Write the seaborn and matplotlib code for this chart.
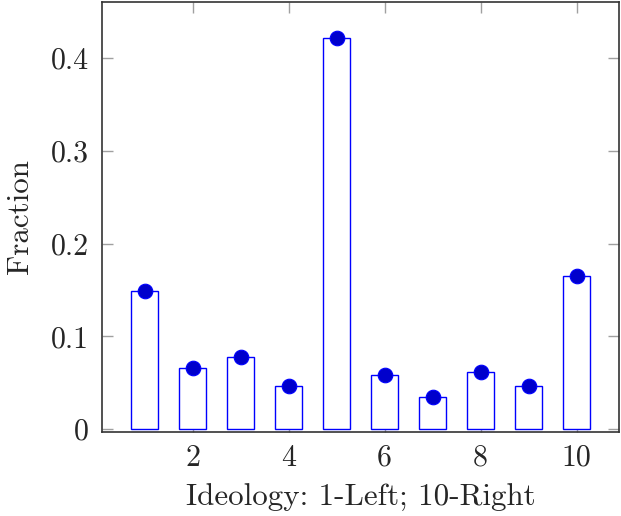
import matplotlib
matplotlib.use("Agg")
import matplotlib.pyplot as plt
import seaborn as sns
import pandas as pd

ideology = [1, 2, 3, 4, 5, 6, 7, 8, 9, 10]
fraction = [0.149, 0.066, 0.078, 0.047, 0.422, 0.058, 0.035, 0.062, 0.047, 0.165]
xticks = [2, 4, 6, 8, 10]
xtick_labels = ["2", "4", "6", "8", "10"]
yticks = [0, 0.1, 0.2, 0.3, 0.4]
ytick_labels = ["0", "0.1", "0.2", "0.3", "0.4"]

sns.set_theme(style="white")
plt.rcParams['font.family'] = ['cmr10', 'DejaVu Sans']
plt.rcParams['mathtext.fontset'] = 'cm'
plt.rcParams['axes.formatter.use_mathtext'] = True

df = pd.DataFrame({"Ideology": ideology, "Fraction": fraction})

fig = plt.figure(figsize=(6.21, 5.16), dpi=100)
ax = fig.add_axes([0.1637, 0.1628, 0.8336, 0.834])

sns.barplot(data=df, x="Ideology", y="Fraction", native_scale=True, width=0.555,
            color="white", edgecolor="#0000ff", linewidth=1.0, ax=ax, errorbar=None)
for p in ax.patches:
    p.set_facecolor("white")
    p.set_edgecolor("#0000ff")
sns.scatterplot(data=df, x="Ideology", y="Fraction", color="#0000cc", edgecolor="#0000ff",
                s=110, linewidth=0.8, ax=ax, zorder=5)

ax.set_xlim(0.104, 10.89)
ax.set_ylim(-0.003, 0.461)
ax.set_xticks(xticks)
ax.set_xticklabels(xtick_labels)
ax.set_yticks(yticks)
ax.set_yticklabels(ytick_labels)
ax.tick_params(direction="in", length=8, width=1.0, color="#a0a0a0",
               top=True, right=True, bottom=True, left=True, labelsize=21.5, pad=9)
for s in ax.spines.values():
    s.set_color("#333333")
    s.set_linewidth(1.2)
ax.set_xlabel("Ideology: 1-Left; 10-Right", fontsize=22.3, labelpad=9)
ax.set_ylabel("Fraction", fontsize=22.3, labelpad=12)
ax.grid(False)
fig.savefig("out.png", dpi=100)
